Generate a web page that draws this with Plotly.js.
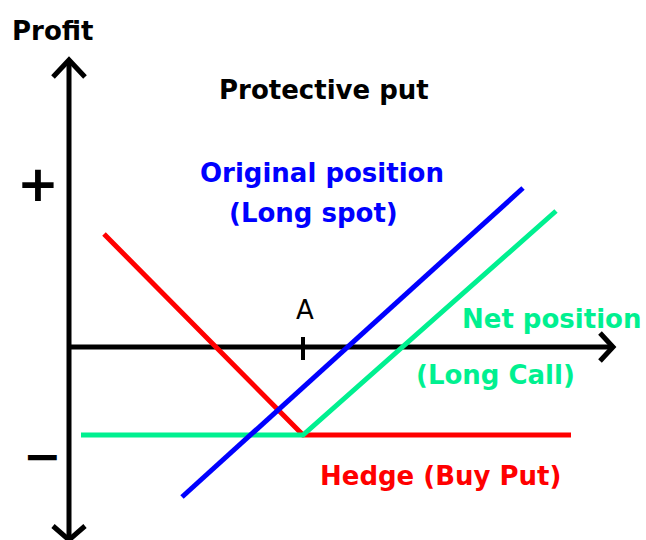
<!DOCTYPE html>
<html>
<head>
<meta charset="utf-8">
<script src="https://cdn.plot.ly/plotly-3.0.1.min.js"></script>
<style>html,body{margin:0;padding:0;background:#fff;}</style>
</head>
<body>
<div id="chart" style="width:646px;height:540px;"></div>
<script>
// Payoff diagram values (price on x, profit on y; x axis at profit 0)
const strikeA = 234;
const hedgeX = [35, 234, 502];
const hedgeY = [113, -88, -88];
const spotX = [113, 454];
const spotY = [-150, 159];
const netX = [12, 234, 487];
const netY = [-88, -88, 136];

const RED = '#ff0000', BLUE = '#0000ff', GREEN = '#00f090';
const FONT = 'DejaVu Sans, Liberation Sans, Arial, sans-serif';

const traces = [
  {x: hedgeX, y: hedgeY, mode: 'lines', line: {color: RED, width: 5}, hoverinfo: 'skip'},
  {x: netX, y: netY, mode: 'lines', line: {color: GREEN, width: 5}, hoverinfo: 'skip'},
  {x: spotX, y: spotY, mode: 'lines', line: {color: BLUE, width: 5}, hoverinfo: 'skip'}
];

const ax = {color: '#000', width: 5};
const shapes = [
  // x axis + arrow
  {type: 'line', xref: 'x', yref: 'y', x0: 0, y0: 0, x1: 542, y1: 0, line: ax, layer: 'below'},
  {type: 'path', xref: 'x', yref: 'y', path: 'M 531 14 L 544 0 L 531 -14', line: ax, layer: 'below'},
  // y axis + arrows
  {type: 'line', xref: 'x', yref: 'y', x0: 0, y0: 285, x1: 0, y1: -193, line: ax, layer: 'below'},
  {type: 'path', xref: 'x', yref: 'y', path: 'M -16 270 L 0 287 L 16 270', line: ax, layer: 'below'},
  {type: 'path', xref: 'x', yref: 'y', path: 'M -16 -179 L 0 -193 L 16 -179', line: ax, layer: 'below'},
  // tick at A
  {type: 'line', xref: 'x', yref: 'y', x0: strikeA, y0: 10, x1: strikeA, y1: -13, line: {color: '#000', width: 4}}
];

function ann(text, x, y, color, size, weight) {
  return {text: text, x: x, y: y, xref: 'x', yref: 'y', showarrow: false,
          xanchor: 'center', yanchor: 'middle',
          font: {family: FONT, size: size, color: color, weight: weight || 'bold'}};
}

const annotations = [
  ann('Profit', -17, 316, '#000', 26),
  ann('Protective put', 255, 257, '#000', 26),
  ann('Original position', 253, 174, BLUE, 26),
  ann('(Long spot)', 244, 134, BLUE, 26),
  ann('Net position', 482, 28, GREEN, 26),
  ann('(Long Call)', 426, -28, GREEN, 26),
  ann('Hedge (Buy Put)', 371, -129, RED, 26),
  ann('A', 236, 37, '#000', 26, 'normal'),
  ann('+', -31, 163, '#000', 50),
  ann('\u2212', -27, -109, '#000', 46)
];

const layout = {
  width: 646, height: 540,
  margin: {l: 0, r: 0, t: 0, b: 0},
  paper_bgcolor: '#fff', plot_bgcolor: '#fff',
  showlegend: false,
  xaxis: {range: [-69, 577], visible: false, fixedrange: true},
  yaxis: {range: [-193, 347], visible: false, fixedrange: true},
  shapes: shapes,
  annotations: annotations
};

Plotly.newPlot('chart', traces, layout, {staticPlot: true, displayModeBar: false});
</script>
</body>
</html>
